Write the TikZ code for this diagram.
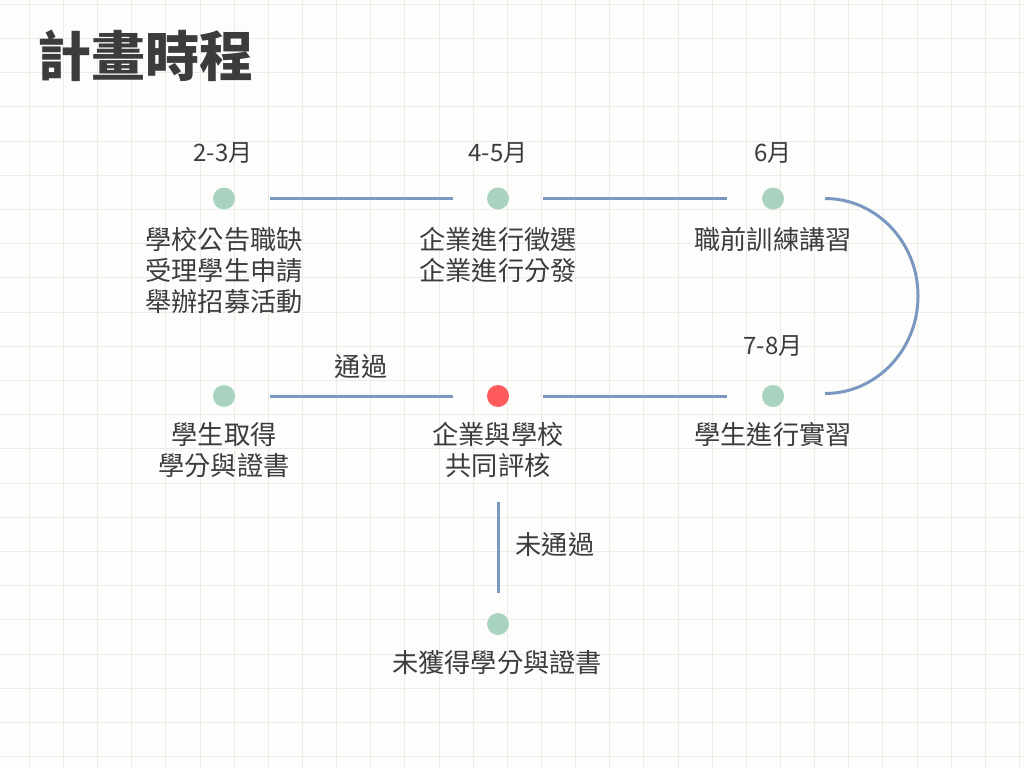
\documentclass[tikz,border=0pt]{standalone}
\usepackage{fontspec}
\setmainfont{Noto Sans CJK TC}
\definecolor{bgc}{HTML}{FDFDFC}
\definecolor{gridc}{HTML}{EDEAE7}
\definecolor{mint}{HTML}{A9D3C0}
\definecolor{redd}{HTML}{FF5A5C}
\definecolor{linec}{HTML}{7A98C0}
\definecolor{txt}{HTML}{3C3C3C}
\tikzset{
  dot/.style={circle, fill=mint, minimum size=22pt, inner sep=0pt},
  reddot/.style={circle, fill=redd, minimum size=22pt, inner sep=0pt},
  conn/.style={draw=linec, line width=3pt},
  month/.style={text=txt, font=\fontsize{24}{27}\selectfont, inner sep=0pt},
  desc/.style={text=txt, font=\fontsize{26.2}{31}\selectfont, align=center, inner sep=0pt},
}
\begin{document}
\begin{tikzpicture}[x=1pt,y=-1pt]
\useasboundingbox (0,0) rectangle (1024,768);
\fill[bgc] (0,0) rectangle (1024,768);
\foreach \i in {0,...,29} {
  \draw[gridc, line width=1pt] ({29.4+34.14*\i},0) -- ({29.4+34.14*\i},768);
}
\foreach \j in {0,...,22} {
  \draw[gridc, line width=1pt] (0,{4.2+34.2*\j}) -- (1024,{4.2+34.2*\j});
}
% title
\node[text=txt, font=\fontsize{54}{60}\selectfont\bfseries, inner sep=0pt, anchor=west] (title) at (37,56) {計畫時程};
% dots
\node[dot] (d1) at (224,198.5) {};
\node[dot] (d2) at (498,198.5) {};
\node[dot] (d3) at (773,198.5) {};
\node[dot] (d4) at (224,396) {};
\node[reddot] (d5) at (498,396) {};
\node[dot] (d6) at (773,396) {};
\node[dot] (d7) at (498,624) {};
% months
\node[month] (m1) at (223,153) {2-3月};
\node[month] (m2) at (498,153) {4-5月};
\node[month] (m3) at (773,153) {6月};
\node[month] (m4) at (773,346) {7-8月};
% descriptions
\node[desc, anchor=north] (t1) at (224,227) {學校公告職缺\\受理學生申請\\舉辦招募活動};
\node[desc, anchor=north] (t2) at (498,227) {企業進行徵選\\企業進行分發};
\node[desc, anchor=north] (t3) at (773,227) {職前訓練講習};
\node[desc, anchor=north] (t4) at (224,422) {學生取得\\學分與證書};
\node[desc, anchor=north] (t5) at (498,422) {企業與學校\\共同評核};
\node[desc, anchor=north] (t6) at (773,422) {學生進行實習};
\node[desc, anchor=north] (t7) at (497,650) {未獲得學分與證書};
% labels
\node[desc] (l1) at (361,367) {通過};
\node[desc] (l2) at (555,545) {未通過};
% connectors
\draw[conn, shorten <=35pt, shorten >=34pt] (d1) -- (d2);
\draw[conn, shorten <=34pt, shorten >=35pt] (d2) -- (d3);
\draw[conn, shorten <=35pt, shorten >=34pt] (d4) -- (d5);
\draw[conn, shorten <=34pt, shorten >=35pt] (d5) -- (d6);
\draw[conn, shorten <=95pt, shorten >=20pt] (d5) -- (d7);
\coordinate (a1) at ([xshift=52pt]d3.center);
\draw[conn] (a1) arc[start angle=90, end angle=-90, x radius=93pt, y radius=97.5pt];
\end{tikzpicture}
\end{document}
